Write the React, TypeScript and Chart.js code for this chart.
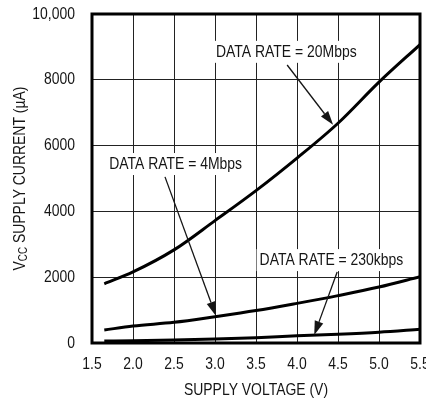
import React, { useEffect, useRef } from 'react';
import { Chart, registerables } from 'chart.js';

Chart.register(...registerables);

const FONT = "'Liberation Sans', Arial, sans-serif";
const NARROW = 0.82; // Helvetica Narrow look
const FONT_SIZE = 17;

// Supply voltage (V)
const voltages = [1.65, 2.0, 2.5, 3.0, 3.5, 4.0, 4.5, 5.0, 5.5];
// Supply current (µA) per data rate
const current20M = [1800, 2160, 2830, 3720, 4630, 5620, 6680, 7930, 9070];
const current4M = [395, 515, 630, 800, 985, 1205, 1440, 1700, 2015];
const current230k = [60, 70, 90, 120, 160, 220, 265, 325, 415];

// Axis ticks
const xTickValues = [1.5, 2.0, 2.5, 3.0, 3.5, 4.0, 4.5, 5.0, 5.5];
const xTickLabels = ['1.5', '2.0', '2.5', '3.0', '3.5', '4.0', '4.5', '5.0', '5.5'];
const yTickValues = [0, 2000, 4000, 6000, 8000, 10000];
const yTickLabels = ['0', '2000', '4000', '6000', '8000', '10,000'];

// Annotations (data coordinates)
const noteText = ['DATA RATE = 20Mbps', 'DATA RATE = 4Mbps', 'DATA RATE = 230kbps'];
const noteX = [3.87, 2.52, 4.42];
const noteY = [8850, 5440, 2520];
const arrowFromX = [3.88, 2.39, 4.49];
const arrowFromY = [8450, 5050, 2160];
const arrowToX = [4.44, 3.01, 4.21];
const arrowToY = [6630, 830, 243];

const yTitleMain = 'V';
const yTitleSub = 'CC';
const yTitleRest = ' SUPPLY CURRENT (µA)';
const xTitle = 'SUPPLY VOLTAGE (V)';

const INK = '#151515';

function narrowText(
  ctx: CanvasRenderingContext2D,
  text: string,
  x: number,
  y: number,
  align: CanvasTextAlign,
  size = FONT_SIZE
) {
  ctx.save();
  ctx.translate(x, y);
  ctx.scale(NARROW, 1);
  ctx.font = `${size}px ${FONT}`;
  ctx.textAlign = align;
  ctx.textBaseline = 'middle';
  ctx.fillStyle = INK;
  ctx.fillText(text, 0, 0);
  ctx.restore();
}

function narrowWidth(ctx: CanvasRenderingContext2D, text: string, size = FONT_SIZE) {
  ctx.save();
  ctx.font = `${size}px ${FONT}`;
  const w = ctx.measureText(text).width * NARROW;
  ctx.restore();
  return w;
}

const textPlugin = {
  id: 'textAndNotes',
  afterDatasetsDraw(chart: any) {
    const ctx = chart.ctx as CanvasRenderingContext2D;
    const xs = chart.scales.x;
    const ys = chart.scales.y;
    ctx.save();
    for (let i = 0; i < noteText.length; i++) {
      const cx = xs.getPixelForValue(noteX[i]);
      const cy = ys.getPixelForValue(noteY[i]);
      const w = narrowWidth(ctx, noteText[i]);
      ctx.fillStyle = '#ffffff';
      ctx.fillRect(cx - w / 2 - 3, cy - 11, w + 6, 22);
      narrowText(ctx, noteText[i], cx, cy, 'center');

      const x0 = xs.getPixelForValue(arrowFromX[i]);
      const y0 = ys.getPixelForValue(arrowFromY[i]);
      const x1 = xs.getPixelForValue(arrowToX[i]);
      const y1 = ys.getPixelForValue(arrowToY[i]);
      const ang = Math.atan2(y1 - y0, x1 - x0);
      const headLen = 14;
      const headHalf = 4.5;
      const bx = x1 - headLen * Math.cos(ang);
      const by = y1 - headLen * Math.sin(ang);
      ctx.strokeStyle = INK;
      ctx.lineWidth = 1.3;
      ctx.beginPath();
      ctx.moveTo(x0, y0);
      ctx.lineTo(bx, by);
      ctx.stroke();
      ctx.fillStyle = INK;
      ctx.beginPath();
      ctx.moveTo(x1, y1);
      ctx.lineTo(bx + headHalf * Math.sin(ang), by - headHalf * Math.cos(ang));
      ctx.lineTo(bx - headHalf * Math.sin(ang), by + headHalf * Math.cos(ang));
      ctx.closePath();
      ctx.fill();
    }
    ctx.restore();
  },
  afterDraw(chart: any) {
    const ctx = chart.ctx as CanvasRenderingContext2D;
    const a = chart.chartArea;
    const xs = chart.scales.x;
    const ys = chart.scales.y;
    ctx.save();
    ctx.strokeStyle = '#000';
    ctx.lineWidth = 3;
    ctx.strokeRect(a.left, a.top, a.right - a.left, a.bottom - a.top);

    // tick labels
    xTickValues.forEach((v, i) => {
      narrowText(ctx, xTickLabels[i], xs.getPixelForValue(v), a.bottom + 21, 'center');
    });
    yTickValues.forEach((v, i) => {
      narrowText(ctx, yTickLabels[i], a.left - 17, ys.getPixelForValue(v), 'right');
    });

    // x-axis title
    narrowText(ctx, xTitle, (a.left + a.right) / 2, 390, 'center');

    // y-axis title with subscript
    const cy = (a.top + a.bottom) / 2;
    const w1 = narrowWidth(ctx, yTitleMain);
    const w2 = narrowWidth(ctx, yTitleSub, 12);
    const w3 = narrowWidth(ctx, yTitleRest);
    ctx.translate(20, cy);
    ctx.rotate(-Math.PI / 2);
    let x = -(w1 + w2 + w3) / 2;
    narrowText(ctx, yTitleMain, x, 0, 'left');
    x += w1;
    narrowText(ctx, yTitleSub, x, 4, 'left', 12);
    x += w2;
    narrowText(ctx, yTitleRest, x, 0, 'left');
    ctx.restore();
  },
};

function toPoints(ys: number[]) {
  return voltages.map((v, i) => ({ x: v, y: ys[i] }));
}

export default function App() {
  const ref = useRef<HTMLCanvasElement | null>(null);
  useEffect(() => {
    if (!ref.current) return;
    const lineStyle = {
      borderColor: '#000',
      borderWidth: 3,
      pointRadius: 0,
      fill: false,
      cubicInterpolationMode: 'monotone' as const,
    };
    const chart = new Chart(ref.current, {
      type: 'line',
      data: {
        datasets: [
          { label: '20Mbps', data: toPoints(current20M), ...lineStyle },
          { label: '4Mbps', data: toPoints(current4M), ...lineStyle },
          { label: '230kbps', data: toPoints(current230k), ...lineStyle },
        ],
      },
      options: {
        animation: false,
        responsive: false,
        devicePixelRatio: 1,
        layout: { padding: { top: 14, right: 20, bottom: 0, left: 0 } },
        plugins: { legend: { display: false }, tooltip: { enabled: false } },
        scales: {
          x: {
            type: 'linear',
            min: 1.5,
            max: 5.5,
            afterFit: (s: any) => {
              s.height = 62;
            },
            afterBuildTicks: (s: any) => {
              s.ticks = xTickValues.map((v) => ({ value: v }));
            },
            ticks: { display: false },
            grid: { color: '#222', lineWidth: 1, drawTicks: false },
            border: { display: false },
            title: { display: false },
          },
          y: {
            min: 0,
            max: 10000,
            afterFit: (s: any) => {
              s.width = 92;
            },
            afterBuildTicks: (s: any) => {
              s.ticks = yTickValues.map((v) => ({ value: v }));
            },
            ticks: { display: false },
            grid: { color: '#222', lineWidth: 1, drawTicks: false },
            border: { display: false },
          },
        },
      },
      plugins: [textPlugin],
    });
    return () => chart.destroy();
  }, []);
  return (
    <div
      style={{
        position: 'fixed',
        left: 0,
        top: 0,
        width: 426,
        height: 405,
        overflow: 'hidden',
        background: '#fff',
      }}
    >
      <canvas ref={ref} width={440} height={405} style={{ display: 'block' }} />
    </div>
  );
}
